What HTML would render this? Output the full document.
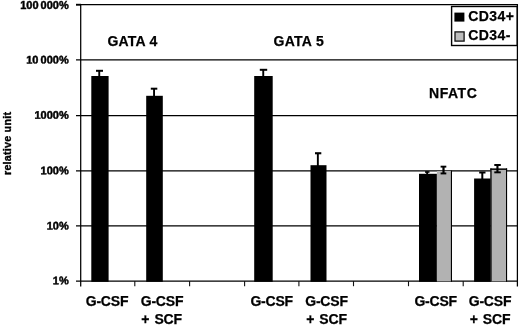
<!DOCTYPE html>
<html>
<head>
<meta charset="utf-8">
<title>Chart</title>
<style>
html,body{margin:0;padding:0;background:#fff;}
body{width:520px;height:326px;overflow:hidden;position:relative;font-family:"Liberation Sans",sans-serif;font-weight:bold;color:#000;}
svg{position:absolute;left:0;top:0;}
.t{position:absolute;white-space:nowrap;line-height:1;color:#000;-webkit-text-stroke:0.25px #000;}
.yl{font-size:11px;-webkit-text-stroke:0.45px #000;word-spacing:-1px;text-align:right;width:68.7px;left:0;}
.xl{font-size:14px;text-align:center;width:70px;letter-spacing:-0.2px;}
.x2{word-spacing:1.4px;}
.ru{-webkit-text-stroke:0.35px #000;font-size:10.8px;letter-spacing:0.2px;}
.ttl{font-size:14px;}
.lg{font-size:14px;letter-spacing:0.4px;}
</style>
</head>
<body>
<svg width="520" height="326" viewBox="0 0 520 326">
  <!-- gridlines -->
  <g stroke="#000" stroke-width="1.3" fill="none">
    <line x1="76" y1="4.7" x2="517.5" y2="4.7"/>
    <line x1="76" y1="59.8" x2="517.5" y2="59.8"/>
    <line x1="76" y1="115.6" x2="517.5" y2="115.6"/>
    <line x1="76" y1="170.8" x2="517.5" y2="170.8"/>
    <line x1="76" y1="225.9" x2="517.5" y2="225.9"/>
    <line x1="76" y1="281.1" x2="517.5" y2="281.1"/>
    <line x1="76" y1="4.7" x2="81" y2="4.7" stroke-width="1.8"/>
  </g>
  <g stroke="#000" stroke-width="1.25" fill="none">
    <line x1="80.7" y1="4" x2="80.7" y2="286.4"/>
    <line x1="517.4" y1="4" x2="517.4" y2="286.4"/>
  </g>
  <g stroke="#111" stroke-width="1.1" fill="none">
    <line x1="134.8" y1="281" x2="134.8" y2="286.2"/>
    <line x1="189.6" y1="281" x2="189.6" y2="286.2"/>
    <line x1="244.6" y1="281" x2="244.6" y2="286.2"/>
    <line x1="298.9" y1="281" x2="298.9" y2="286.2"/>
    <line x1="353.5" y1="281" x2="353.5" y2="286.2"/>
    <line x1="408.5" y1="281" x2="408.5" y2="286.2"/>
    <line x1="463.2" y1="281" x2="463.2" y2="286.2"/>
  </g>
  <!-- bars -->
  <g fill="#000">
    <rect x="91.3" y="76" width="17.3" height="205.8"/>
    <rect x="146.2" y="95.8" width="16.6" height="186"/>
    <rect x="254.2" y="76" width="18.5" height="205.8"/>
    <rect x="310.5" y="165.2" width="16" height="116.6"/>
    <rect x="419" y="173.8" width="17.9" height="108"/>
    <rect x="474.1" y="178.5" width="16.6" height="103.3"/>
  </g>
  <g fill="#b2b2b2">
    <rect x="436.9" y="171" width="14.4" height="110.2"/>
    <rect x="490.7" y="169" width="15.8" height="112.2"/>
  </g>
  <g fill="#000">
    <rect x="450.9" y="170.5" width="1.1" height="111.3"/>
    <rect x="490.3" y="168.4" width="1.3" height="113"/>
    <rect x="490.3" y="168.4" width="16.8" height="1.5"/>
    <rect x="506" y="168.4" width="1.1" height="113.4"/>
  </g>
  <!-- error bars -->
  <g fill="#000">
    <rect x="96" y="69.8" width="7" height="2"/><rect x="98.3" y="70" width="1.9" height="7"/>
    <rect x="150.8" y="87.7" width="6.5" height="2"/><rect x="153.1" y="88" width="1.9" height="8"/>
    <rect x="259.8" y="68.8" width="7.4" height="2"/><rect x="262.3" y="69" width="1.9" height="8"/>
    <rect x="315" y="152.2" width="6.3" height="2.1"/><rect x="316.9" y="153" width="1.9" height="13"/>
    <rect x="425" y="171.2" width="4.5" height="1.6"/><rect x="426.2" y="171.5" width="1.9" height="3"/>
    <rect x="479.2" y="171.5" width="6.3" height="2"/><rect x="481.3" y="172" width="2" height="7"/>
    <rect x="440.6" y="165.7" width="5.7" height="1.9"/><rect x="440.6" y="172.5" width="5.7" height="1.9"/><rect x="442.4" y="166" width="2.2" height="8"/>
    <rect x="494.3" y="164" width="6.5" height="2"/><rect x="494.3" y="171.4" width="6.5" height="1.9"/><rect x="496.4" y="164.5" width="2.1" height="8"/>
  </g>
  <!-- legend -->
  <rect x="451.6" y="6.5" width="65.5" height="39" fill="#fff" stroke="#000" stroke-width="1.4"/>
  <rect x="454.4" y="12.6" width="10" height="9" fill="#000"/>
  <rect x="455" y="31.9" width="9.1" height="9.2" fill="#bcbcbc" stroke="#111" stroke-width="1.3"/>
</svg>

<div class="t yl" style="top:0px;">100 000%</div>
<div class="t yl" style="top:54px;transform:translateY(0.5px) rotate(0.03deg);">10 000%</div>
<div class="t yl" style="top:110px;transform:translateY(-0.3px) rotate(0.03deg);">1000%</div>
<div class="t yl" style="top:165px;transform:translateY(0.3px) rotate(0.03deg);">100%</div>
<div class="t yl" style="top:220px;transform:translateY(0.5px) rotate(0.03deg);">10%</div>
<div class="t yl" style="top:275px;transform:translateY(0.3px) rotate(0.03deg);">1%</div>

<div class="t ru" style="left:2px;top:175px;transform-origin:0 0;transform:rotate(-90deg);">relative unit</div>

<div class="t ttl" style="left:107.5px;top:33.5px;letter-spacing:0.2px;">GATA 4</div>
<div class="t ttl" style="left:273.5px;top:33.5px;letter-spacing:0.3px;">GATA 5</div>
<div class="t ttl" style="left:429px;top:85.5px;letter-spacing:0.55px;">NFATC</div>

<div class="t lg" style="left:468.3px;top:9px;">CD34+</div>
<div class="t lg" style="left:468.3px;top:28px;">CD34-</div>

<div class="t xl" style="left:72px;top:294px;">G-CSF</div>
<div class="t xl" style="left:127px;top:294px;">G-CSF</div>
<div class="t xl x2" style="left:126.6px;top:312px;">+ SCF</div>
<div class="t xl" style="left:236.7px;top:294px;">G-CSF</div>
<div class="t xl" style="left:291.5px;top:294px;">G-CSF</div>
<div class="t xl x2" style="left:291.5px;top:312px;">+ SCF</div>
<div class="t xl" style="left:400.7px;top:294px;">G-CSF</div>
<div class="t xl" style="left:455px;top:294px;">G-CSF</div>
<div class="t xl x2" style="left:455px;top:312px;">+ SCF</div>
</body>
</html>
